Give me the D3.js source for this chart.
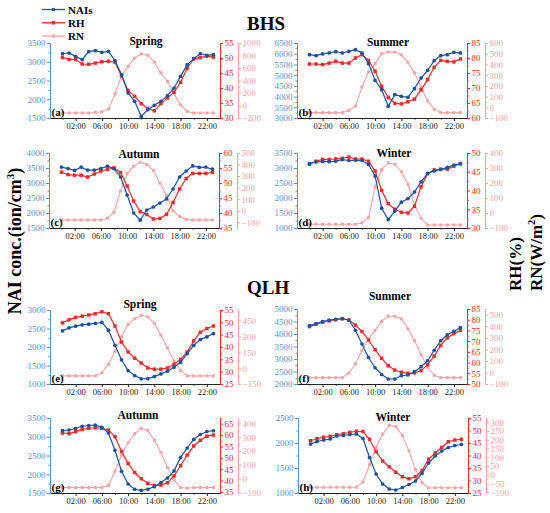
<!DOCTYPE html>
<html>
<head>
<meta charset="utf-8">
<script src="https://cdn.jsdelivr.net/npm/d3@7"></script>
<style>
  body { margin: 0; background: #fff; }
  svg text { font-family: "Liberation Serif", "Times New Roman", serif; }
</style>
</head>
<body>
<svg id="chart" width="550" height="513"></svg>
<script>
// hours of the day and the labelled ticks
const hours = d3.range(24);
const hourTicks = [2, 6, 10, 14, 18, 22];
const hourMinor = [0, 4, 8, 12, 16, 20];
const seasons = ['Spring', 'Summer', 'Autumn', 'Winter'];
const sites = ['BHS', 'QLH'];
const legendNames = ['NAIs', 'RH', 'RN'];

// BHS
const naiBhsSpring = [3216,3233,3144,3056,3269,3296,3251,3278,3029,2656,2167,1944,1544,1722,1838,1944,2096,2300,2611,2922,3082,3216,3171,3189];
const rhBhsSpring  = [50.2,49.5,49.5,48.0,47.9,48.3,48.8,48.9,48.6,44.0,39.2,37.2,34.8,33.2,32.4,34.8,36.7,38.6,41.9,46.6,49.7,50.1,50.6,50.3];
const rnBhsSpring  = [-120,-120,-120,-120,-120,-110,-100,-55,185,475,625,760,825,805,695,520,385,190,10,-95,-120,-120,-120,-120];

const naiBhsSummer = [5955,5910,5990,6035,6095,6035,6110,6190,6035,5535,4760,4320,3545,4090,4010,3965,4370,4865,5225,5675,5910,5955,6065,6035];
const rhBhsSummer  = [78.0,78.0,77.8,78.3,78.9,78.3,78.3,80.0,81.1,79.2,75.6,70.6,66.9,64.9,64.7,65.4,66.3,69.4,72.8,76.9,79.2,78.9,78.7,79.7];
const rnBhsSummer  = [-50,-50,-50,-50,-50,-50,-30,10,190,330,410,500,515,515,490,420,320,190,60,-20,-50,-50,-50,-50];

const naiBhsAutumn = [3530,3480,3420,3530,3430,3430,3480,3560,3480,3200,2600,2000,1760,2100,2200,2330,2470,2800,3200,3400,3570,3520,3530,3460];
const rhBhsAutumn  = [53.6,52.8,52.6,52.6,52.0,53.0,54.0,54.5,55.0,53.5,49.0,44.0,40.5,39.5,38.0,38.2,39.5,43.5,48.0,51.5,53.2,53.2,53.2,53.5];
const rnBhsAutumn  = [-80,-80,-80,-80,-80,-80,-80,-65,-15,170,320,385,420,400,350,240,130,0,-50,-75,-80,-80,-80,-80];

const naiBhsWinter = [3150,3200,3220,3210,3230,3280,3250,3260,3250,3120,2730,1660,1280,1560,1860,1980,2200,2540,2820,2900,2950,3020,3100,3140];
const rhBhsWinter  = [47.0,47.8,48.3,48.3,48.4,48.6,48.9,48.4,48.4,47.8,45.2,40.0,36.5,35.0,34.2,34.0,35.8,41.0,44.5,45.5,45.7,45.7,46.5,47.2];
const rnBhsWinter  = [-75,-75,-75,-75,-75,-75,-75,-75,-65,-30,175,290,335,325,275,190,50,-35,-80,-80,-80,-80,-80,-80];

// QLH
const naiQlhSpring = [2436,2518,2564,2600,2618,2636,2664,2455,2045,1655,1364,1227,1140,1145,1200,1273,1345,1455,1591,1818,2045,2200,2273,2364];
const rhQlhSpring  = [49.8,51.0,52.0,52.5,53.0,53.5,54.3,53.5,48.5,42.0,38.0,35.5,33.5,31.5,31.0,31.0,31.5,33.0,35.0,38.0,42.5,46.0,47.5,48.5];
const rnQlhSpring  = [-73,-73,-73,-73,-73,-73,-45,35,160,295,415,467,500,486,423,312,191,67,-22,-73,-73,-73,-73,-73];

const naiQlhSummer = [4333,4420,4500,4560,4590,4610,4560,4150,3600,3060,2650,2380,2200,2200,2333,2360,2493,2693,2930,3350,3730,3970,4110,4260];
const rhQlhSummer  = [76.8,77.8,78.8,79.5,80.0,80.5,79.8,77.5,74.5,70.5,66.0,62.0,58.5,56.5,55.5,55.0,55.2,56.2,59.0,63.0,68.0,71.5,73.5,75.0];
const rnQlhSummer  = [-45,-45,-45,-45,-45,-45,-5,75,190,290,365,445,487,487,465,377,276,155,45,-25,-45,-45,-45,-45];

const naiQlhAutumn = [3162,3180,3220,3280,3300,3310,3250,3100,2640,2080,1740,1600,1570,1600,1670,1780,1900,2090,2450,2700,2930,3060,3140,3160];
const rhQlhAutumn  = [60.9,60.6,61.5,62.5,63.0,63.2,63.0,62.2,59.3,52.8,47.5,43.5,40.8,38.8,37.8,38.0,39.0,42.0,46.5,51.2,55.2,57.7,59.5,60.0];
const rnQlhAutumn  = [-65,-65,-65,-65,-65,-65,-65,-50,55,170,260,325,365,350,280,190,80,-10,-65,-70,-65,-65,-65,-65];

const naiQlhWinter = [1978,2030,2060,2080,2140,2150,2170,2180,2090,1710,1380,1180,1080,1060,1110,1170,1240,1390,1600,1740,1840,1910,1950,1970];
const rhQlhWinter  = [45.9,46.7,47.3,47.7,48.3,48.7,49.3,49.7,49.6,46.5,41.5,37.8,35.5,33.3,31.5,30.7,31.5,34.0,38.5,41.0,43.2,45.5,46.2,46.5];
const rnQlhWinter  = [-72,-72,-72,-72,-72,-72,-72,-72,-42,57,157,233,283,277,224,138,29,-47,-76,-75,-75,-75,-75,-75];

// colours
const NAVY = '#1c529e', AXBLUE = '#5a94cf', RED = '#ef2a2a', PINK = '#f7a4a4';

const svg = d3.select('#chart');
const plotW = 170;
const rnGap = 18;

// panel layout: axis domains + placement
const panels = [
  {tag:'(a)', season:0, nai:naiBhsSpring, rh:rhBhsSpring, rn:rnBhsSpring, left:50,  top:43,  bottom:118, naiDom:[1500,3500], naiStep:500, rhDom:[30,55],     rhStep:5, rnDom:[-200,1000], rnStep:200, titleDx:11, titleDy:2},
  {tag:'(b)', season:1, nai:naiBhsSummer, rh:rhBhsSummer, rn:rnBhsSummer, left:297, top:43,  bottom:118, naiDom:[3000,6500], naiStep:500, rhDom:[60,85],     rhStep:5, rnDom:[-100,600],  rnStep:100, titleDx:6,  titleDy:3},
  {tag:'(c)', season:2, nai:naiBhsAutumn, rh:rhBhsAutumn, rn:rnBhsAutumn, left:49,  top:153, bottom:228, naiDom:[1500,4000], naiStep:500, rhDom:[35,60],     rhStep:5, rnDom:[-150,500],  rnStep:100, titleDx:5,  titleDy:5},
  {tag:'(d)', season:3, nai:naiBhsWinter, rh:rhBhsWinter, rn:rnBhsWinter, left:297, top:153, bottom:228, naiDom:[1000,3500], naiStep:500, rhDom:[30,50],     rhStep:5, rnDom:[-100,400],  rnStep:100, titleDx:12, titleDy:4},
  {tag:'(e)', season:0, nai:naiQlhSpring, rh:rhQlhSpring, rn:rnQlhSpring, left:50,  top:310, bottom:384, naiDom:[1000,3000], naiStep:500, rhDom:[25,55],     rhStep:5, rnDom:[-150,550],  rnStep:150, titleDx:5,  titleDy:-2},
  {tag:'(f)', season:1, nai:naiQlhSummer, rh:rhQlhSummer, rn:rnQlhSummer, left:297, top:309, bottom:384, naiDom:[2000,5000], naiStep:500, rhDom:[50,85],     rhStep:5, rnDom:[-100,550],  rnStep:100, titleDx:8,  titleDy:-9},
  {tag:'(g)', season:2, nai:naiQlhAutumn, rh:rhQlhAutumn, rn:rnQlhAutumn, left:50,  top:418, bottom:493, naiDom:[1500,3500], naiStep:500, rhDom:[34.5,67.5], rhStep:5, rnDom:[-105,440],  rnStep:100, titleDx:3,  titleDy:1},
  {tag:'(h)', season:3, nai:naiQlhWinter, rh:rhQlhWinter, rn:rnQlhWinter, left:298, top:418, bottom:493, naiDom:[1000,2500], naiStep:500, rhDom:[25,55],     rhStep:5, rnDom:[-105,325],  rnStep:50,  titleDx:10, titleDy:3}
];

function majors(dom, step) {
  return d3.range(Math.ceil(dom[0] / step) * step, dom[1] + 1e-9, step);
}
function minors(dom, step) {
  return majors([dom[0] - step / 2, dom[1]], step).map(v => v + step / 2).filter(v => v >= dom[0] && v <= dom[1]);
}
function fmtHour(h) { return String(h).padStart(2, '0') + ':00'; }

function styleAxis(sel, color, size) {
  sel.attr('color', color)
    .attr('font-family', '"Liberation Serif", "Times New Roman", serif')
    .attr('font-size', size);
  sel.selectAll('line, path').attr('stroke-width', 1);
}

// draws an axis plus its unlabelled minor ticks
function addAxis(g, axisFn, scale, major, minor, tx, ty, color, size, fmt) {
  const a = g.append('g').attr('transform', `translate(${tx},${ty})`)
    .call(axisFn(scale).tickValues(major).tickSize(3).tickPadding(1.5).tickSizeOuter(0).tickFormat(fmt || d3.format('d')));
  styleAxis(a, color, size);
  const m = g.append('g').attr('transform', `translate(${tx},${ty})`)
    .call(axisFn(scale).tickValues(minor).tickSize(1.6).tickSizeOuter(0).tickFormat(''));
  styleAxis(m, color, size);
  return a;
}

function series(g, vals, x, y, color, symbol, size, width) {
  g.append('path').datum(vals)
    .attr('fill', 'none').attr('stroke', color).attr('stroke-width', width)
    .attr('d', d3.line().x((d, i) => x(hours[i])).y(d => y(d)));
  g.selectAll(null).data(vals).join('path')
    .attr('transform', (d, i) => `translate(${x(hours[i])},${y(d)})`)
    .attr('d', d3.symbol(symbol, size))
    .attr('fill', color);
}

function drawPanel(p) {
  const right = p.left + plotW;
  const x = d3.scaleLinear().domain([-1.9, 24]).range([p.left, right]);
  const yN = d3.scaleLinear().domain(p.naiDom).range([p.bottom, p.top]);
  const yH = d3.scaleLinear().domain(p.rhDom).range([p.bottom, p.top]);
  const yR = d3.scaleLinear().domain(p.rnDom).range([p.bottom, p.top]);
  const g = svg.append('g');

  // axes
  addAxis(g, d3.axisBottom, x, hourTicks, hourMinor, 0, p.bottom, '#222', 8.5, fmtHour);
  addAxis(g, d3.axisLeft, yN, majors(p.naiDom, p.naiStep), minors(p.naiDom, p.naiStep), p.left, 0, AXBLUE, 9);
  addAxis(g, d3.axisRight, yH, majors(p.rhDom, p.rhStep), minors(p.rhDom, p.rhStep), right, 0, RED, 9);
  addAxis(g, d3.axisRight, yR, majors(p.rnDom, p.rnStep), minors(p.rnDom, p.rnStep), right + rnGap, 0, PINK, 9);

  // series
  series(g, p.rn, x, yR, PINK, d3.symbolSquare, 9, 1.1);
  series(g, p.rh, x, yH, RED, d3.symbolSquare, 12, 1.2);
  series(g, p.nai, x, yN, NAVY, d3.symbolCircle, 11, 1.2);

  // season title + panel tag
  g.append('text')
    .attr('x', (p.left + right) / 2 + p.titleDx).attr('y', p.top + p.titleDy)
    .attr('text-anchor', 'middle').attr('font-size', 11.5).attr('font-weight', 'bold')
    .text(seasons[p.season]);
  g.append('text')
    .attr('x', p.left + 1.5).attr('y', p.bottom - 2)
    .attr('font-size', 11).attr('font-weight', 'bold')
    .text(p.tag);
}

panels.forEach(drawPanel);

// site headings
svg.append('text').attr('x', 247).attr('y', 30)
  .attr('font-size', 19).attr('font-weight', 'bold').text(sites[0]);
svg.append('text').attr('x', 247).attr('y', 294)
  .attr('font-size', 19).attr('font-weight', 'bold').text(sites[1]);

// legend
const legendColors = [NAVY, RED, PINK];
const legendSymbols = [d3.symbolCircle, d3.symbolSquare, d3.symbolSquare];
const legendSizes = [11, 12, 9];
legendNames.forEach((name, i) => {
  const y = 9.5 + i * 13.3;
  const lg = svg.append('g');
  lg.append('line').attr('x1', 42).attr('x2', 65).attr('y1', y).attr('y2', y)
    .attr('stroke', legendColors[i]).attr('stroke-width', 1.3);
  lg.append('path').attr('transform', `translate(53.5,${y})`)
    .attr('d', d3.symbol(legendSymbols[i], legendSizes[i])).attr('fill', legendColors[i]);
  lg.append('text').attr('x', 68).attr('y', y + 4)
    .attr('font-size', 11).attr('font-weight', 'bold').text(name);
});

// axis titles
const yTitle = svg.append('text')
  .attr('transform', 'translate(21,241) rotate(-90)')
  .attr('text-anchor', 'middle').attr('font-size', 18).attr('font-weight', 'bold');
yTitle.append('tspan').text('NAI conc.(ion/cm');
yTitle.append('tspan').attr('dy', -7).attr('font-size', 11).text('3');
yTitle.append('tspan').attr('dy', 7).text(')');

svg.append('text')
  .attr('transform', 'translate(521,291) rotate(-90)')
  .attr('font-size', 17).attr('font-weight', 'bold').text('RH(%)');
const rnTitle = svg.append('text')
  .attr('transform', 'translate(542,291) rotate(-90)')
  .attr('font-size', 17).attr('font-weight', 'bold');
rnTitle.append('tspan').text('RN(W/m');
rnTitle.append('tspan').attr('dy', -7).attr('font-size', 10.5).text('2');
rnTitle.append('tspan').attr('dy', 7).text(')');
</script>
</body>
</html>
